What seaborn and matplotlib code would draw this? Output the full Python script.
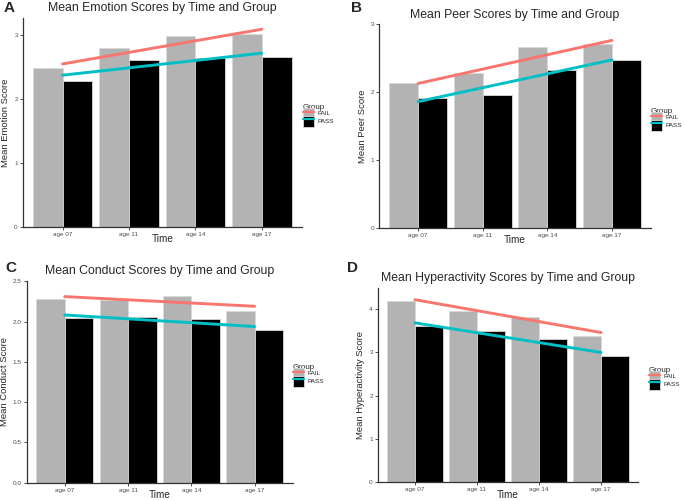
import numpy as np
import pandas as pd
import matplotlib
matplotlib.use('Agg')
import matplotlib.pyplot as plt
import seaborn as sns
from matplotlib.patches import Patch
from matplotlib.lines import Line2D

times = ['age 07', 'age 11', 'age 14', 'age 17']
groups = ['FAIL', 'PASS']

emotion_fail = [2.48, 2.79, 2.98, 3.02]
emotion_pass = [2.28, 2.60, 2.64, 2.65]
peer_fail = [2.13, 2.28, 2.66, 2.71]
peer_pass = [1.91, 1.96, 2.33, 2.47]
conduct_fail = [2.28, 2.27, 2.32, 2.13]
conduct_pass = [2.05, 2.06, 2.03, 1.90]
hyper_fail = [4.19, 3.95, 3.82, 3.39]
hyper_pass = [3.62, 3.50, 3.32, 2.92]

bar_colors = {'FAIL': '#b3b3b3', 'PASS': '#000000'}
line_colors = {'FAIL': '#f8766d', 'PASS': '#00bfc4'}

W, H = 685, 501

# letter, title, ylabel, fail, pass, y ticks, ylim top,
# axes box (left, top, right, bottom px), title centre y, letter pos, legend pos
panels = [
    ('A', 'Mean Emotion Scores by Time and Group', 'Mean Emotion Score',
     emotion_fail, emotion_pass, [0, 1, 2, 3], 3.26,
     (22.7, 18.3, 301.7, 226.7), 7.5, (9, 7.5), (303, 104)),
    ('B', 'Mean Peer Scores by Time and Group', 'Mean Peer Score',
     peer_fail, peer_pass, [0, 1, 2, 3], 3.0,
     (379.3, 24.3, 650.7, 227.7), 15, (357, 7.5), (651, 108)),
    ('C', 'Mean Conduct Scores by Time and Group', 'Mean Conduct Score',
     conduct_fail, conduct_pass, [0.0, 0.5, 1.0, 1.5, 2.0, 2.5], 2.5,
     (26.7, 281.3, 292.7, 482.7), 270.7, (11, 268), (293, 364)),
    ('D', 'Mean Hyperactivity Scores by Time and Group', 'Mean Hyperactivity Score',
     hyper_fail, hyper_pass, [0, 1, 2, 3, 4], 4.48,
     (377.7, 288.3, 638.3, 482.3), 278.3, (352.5, 268.5), (649, 367)),
]

sns.set_theme(style='white')
plt.rcParams['font.family'] = ['Liberation Sans', 'DejaVu Sans']

fig = plt.figure(figsize=(W / 100, H / 100), dpi=100)

for (letter, title, ylabel, fail, pss, yticks, ytop,
     box, title_y, letter_xy, leg_xy) in panels:
    l, t, r, b = box
    ax = fig.add_axes([l / W, 1 - b / H, (r - l) / W, (b - t) / H])

    df = pd.DataFrame({
        'Time': times * 2,
        'Group': ['FAIL'] * 4 + ['PASS'] * 4,
        'Score': list(fail) + list(pss),
    })
    sns.barplot(data=df, x='Time', y='Score', hue='Group', order=times,
                hue_order=groups, palette=bar_colors, width=0.9, gap=0,
                edgecolor='#d9d9d9', linewidth=0.6, errorbar=None,
                legend=False, ax=ax)

    pos = np.arange(len(times))
    sns.regplot(x=pos, y=np.array(fail), ax=ax, ci=None, scatter=False,
                color=line_colors['FAIL'], line_kws={'lw': 2.1})
    sns.regplot(x=pos, y=np.array(pss), ax=ax, ci=None, scatter=False,
                color=line_colors['PASS'], line_kws={'lw': 2.1})

    ax.set_xlim(-0.6, 3.6)
    ax.set_ylim(0, ytop)
    ax.set_xticks(pos)
    ax.set_xticklabels(times)
    ax.set_yticks(yticks)
    if isinstance(yticks[1], float):
        ax.set_yticklabels([f'{v:.1f}' for v in yticks])
    ax.tick_params(axis='both', labelsize=4.6, labelcolor='#4d4d4d',
                   length=2, width=0.6, color='#333333', pad=1.5,
                   bottom=True, left=True)
    for side in ['top', 'right']:
        ax.spines[side].set_visible(False)
    for side in ['left', 'bottom']:
        ax.spines[side].set_color('#333333')
        ax.spines[side].set_linewidth(0.9)

    ax.set_xlabel('Time', fontsize=7.2, labelpad=-1.5)
    ax.set_ylabel(ylabel, fontsize=6.8, labelpad=3)

    fig.text((l + r) / 2 / W, 1 - title_y / H, title, fontsize=8.8,
             ha='center', va='center')
    fig.text(letter_xy[0] / W, 1 - letter_xy[1] / H, letter, fontsize=11,
             fontweight='bold', ha='center', va='center')

    handles = [
        (Patch(facecolor=bar_colors[g], edgecolor='#d9d9d9', linewidth=0.6),
         Line2D([], [], color=line_colors[g], lw=1.6))
        for g in groups
    ]
    leg = fig.legend(handles, groups, title='Group', loc='upper left',
                     bbox_to_anchor=(leg_xy[0] / W, 1 - leg_xy[1] / H),
                     bbox_transform=fig.transFigure, frameon=False,
                     fontsize=4.6, title_fontsize=5.8, borderpad=0,
                     borderaxespad=0, handlelength=1.7, handleheight=2.27,
                     labelspacing=-0.5, handletextpad=0.6)
    leg._legend_box.align = 'left'

fig.savefig('out.png', dpi=100)
